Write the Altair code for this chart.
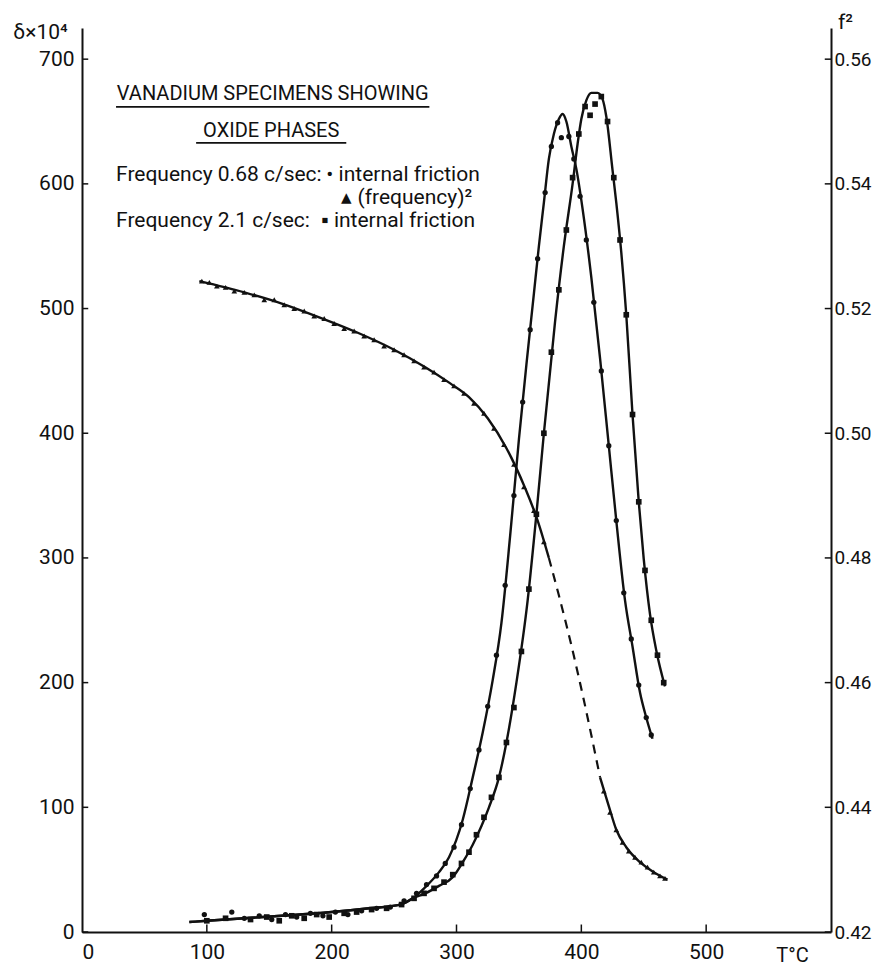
import altair as alt
import pandas as pd

# ---------------- data ----------------
# 0.68 c/sec internal friction (dots) - fitted curve
dots_T = [86, 100, 130, 160, 200, 230, 255, 265, 275, 286, 294, 305, 313, 321, 329, 336, 343, 350,
          356, 362, 366, 370, 374, 378, 382, 385, 388, 392, 396, 401, 408, 415, 422, 428, 435, 441,
          447, 452, 457]
dots_d = [8, 9, 11, 13, 16, 19, 22, 27, 36, 48, 60, 90, 124, 160, 202, 248, 318, 395,
          455, 512, 550, 585, 620, 640, 652, 656, 650, 630, 612, 580, 525, 460, 390, 330, 266, 229,
          192, 172, 155]
# dot markers
dotm_T = [98, 120, 130, 142, 152, 163, 172, 183, 193, 203, 213, 224, 236, 247, 258, 268, 276, 284,
          291, 298, 304, 311, 318, 325, 332, 339, 346, 353, 359, 365, 371, 376, 381, 384, 390, 394,
          399, 404, 410, 416, 422, 428, 434, 440, 446, 452, 456]
dotm_d = [14, 16, 11, 13, 10, 14, 12, 15, 13, 16, 14, 17, 19, 20, 25, 31, 38, 45,
          55, 68, 86, 115, 146, 181, 222, 278, 350, 425, 483, 540, 593, 630, 649, 637, 638, 620,
          590, 555, 505, 450, 390, 330, 272, 235, 198, 172, 158]

# 2.1 c/sec internal friction (squares) - fitted curve
sq_T = [86, 100, 130, 160, 200, 230, 255, 265, 275, 286, 297, 305, 313, 320, 326, 334, 340, 348,
        357, 364, 370, 379, 386, 393, 397, 400, 404, 408, 413, 417, 420, 425, 428, 432, 436, 441,
        446, 450, 455, 460, 467]
sq_d = [8, 9, 11, 13, 16, 19, 22, 27, 31, 37, 44, 56, 70, 85, 100, 124, 152, 200,
        266, 335, 400, 490, 550, 600, 632, 652, 667, 673, 673, 668, 654, 611, 585, 545, 495, 415,
        345, 299, 255, 226, 197]
# square markers
sqm_T = [100, 115, 135, 148, 158, 168, 178, 188, 198, 210, 220, 232, 244, 256, 266, 274, 282, 290,
         297, 304, 310, 316, 322, 328, 334, 340, 346, 352, 358, 364, 370, 376, 382, 388, 393, 398,
         403, 407, 411, 416, 421, 426, 431, 436, 441, 446, 451, 456, 461, 466]
sqm_d = [9, 11, 10, 12, 9, 13, 11, 14, 12, 15, 16, 18, 19, 22, 27, 31, 35, 40,
         46, 55, 64, 78, 92, 108, 124, 152, 180, 225, 275, 335, 400, 465, 515, 563, 605, 640,
         662, 655, 664, 670, 650, 605, 555, 495, 415, 345, 290, 250, 222, 200]

# 0.68 c/sec (frequency)^2 (triangles) - fitted curve, solid / dashed / solid
f2a_T = [94, 130, 160, 190, 220, 250, 275, 295, 310, 325, 340, 355, 365, 374]
f2a_v = [0.5244, 0.5226, 0.5208, 0.5186, 0.5162, 0.5134, 0.5106, 0.5080, 0.5058, 0.5024,
         0.4976, 0.4912, 0.4860, 0.4800]
f2b_T = [374, 382, 392, 402, 415]
f2b_v = [0.4800, 0.4740, 0.4660, 0.4572, 0.4448]
f2c_T = [415, 422, 428, 436, 447, 458, 469]
f2c_v = [0.4448, 0.4402, 0.4364, 0.4336, 0.4312, 0.4296, 0.4284]
# triangle markers
trm_T = [96, 102, 108, 115, 122, 130, 138, 146, 154, 162, 170, 178, 186, 194, 202, 210, 218, 226,
         234, 242, 250, 258, 266, 274, 282, 290, 298, 306, 314, 322, 330, 338, 346, 354, 362, 370,
         418, 423, 428, 433, 438, 443, 448, 453, 458, 463, 467]
trm_v = [0.5244, 0.5242, 0.5236, 0.5234, 0.5228, 0.5226, 0.5222, 0.5214, 0.5214, 0.5206, 0.5200,
         0.5196, 0.5188, 0.5184, 0.5176, 0.5168, 0.5164, 0.5156, 0.5150, 0.5140, 0.5134, 0.5126,
         0.5116, 0.5106, 0.5098, 0.5086, 0.5076, 0.5064, 0.5048, 0.5032, 0.5008, 0.4982, 0.4950,
         0.4914, 0.4876, 0.4826,
         0.4426, 0.4392, 0.4364, 0.4344, 0.4330, 0.4320, 0.4312, 0.4304, 0.4296, 0.4290, 0.4286]

x_ticks = [0, 100, 200, 300, 400, 500]
d_ticks = [0, 100, 200, 300, 400, 500, 600, 700]
f_ticks = [0.42, 0.44, 0.46, 0.48, 0.50, 0.52, 0.54, 0.56]

title_lines = ["VANADIUM SPECIMENS SHOWING", "OXIDE PHASES"]
legend_parts = ["Frequency 0.68 c/sec:", "\u2022 internal friction",
                "\u25b4 (frequency)\u00b2",
                "Frequency 2.1 c/sec:", "\u25aa internal friction"]

# ---------------- chart ----------------
FONT = "Roboto"
BLACK = "#111111"


def frame(T, v):
    return pd.DataFrame({"T": T, "v": v})


def px_T(px):  # page pixel x -> temperature (annotation placement)
    return (px - 83) / 1.247


def px_d(py):  # page pixel y -> delta units (annotation placement)
    return (932 - py) / 1.246


xs = alt.Scale(domain=[0, 600], nice=False, zero=False)
ys_d = alt.Scale(domain=[0, 725], nice=False, zero=False)
ys_f = alt.Scale(domain=[0.42, 0.565], nice=False, zero=False)

x_axis = alt.Axis(values=x_ticks, tickSize=0, labelPadding=9, domainWidth=2, domainColor=BLACK,
                  labelFont=FONT, labelFontSize=21, labelColor=BLACK, grid=False, format="d",
                  title="T\u00b0C", titleX=710, titleY=23, titleAngle=0, titleAlign="center",
                  titleBaseline="middle", titleFont=FONT, titleFontSize=20,
                  titleFontWeight="normal", titleColor=BLACK)
d_axis = alt.Axis(values=d_ticks, tickSize=0, labelPadding=8, domainWidth=2, domainColor=BLACK,
                  labelFont=FONT, labelFontSize=21, labelColor=BLACK, grid=False, format="d",
                  title="\u03b4\u00d710\u2074", titleAngle=0, titleX=-42, titleY=4,
                  titleAlign="center", titleBaseline="middle", titleFont=FONT, titleFontSize=21,
                  titleFontWeight="normal", titleColor=BLACK)
f_axis = alt.Axis(values=f_ticks, orient="right", tickSize=0, labelPadding=3, domainWidth=2,
                  domainColor=BLACK, labelFont=FONT, labelFontSize=19, labelColor=BLACK,
                  grid=False, format=".2f",
                  title="f\u00b2", titleAngle=0, titleX=14, titleY=-6, titleAlign="center",
                  titleBaseline="middle", titleFont=FONT, titleFontSize=21,
                  titleFontWeight="normal", titleColor=BLACK)

X = alt.X("T:Q", scale=xs, axis=x_axis)
YD = alt.Y("v:Q", scale=ys_d, axis=d_axis)
YF = alt.Y("v:Q", scale=ys_f, axis=f_axis)

line_kw = dict(color=BLACK, strokeWidth=2.4, interpolate="monotone")

l_dots = alt.Chart(frame(dots_T, dots_d)).mark_line(**line_kw).encode(x=X, y=YD)
l_sq = alt.Chart(frame(sq_T, sq_d)).mark_line(**line_kw).encode(x=X, y=YD)
p_dots = alt.Chart(frame(dotm_T, dotm_d)).mark_point(shape="circle", filled=True, size=28,
                                                     color=BLACK, opacity=1).encode(x=X, y=YD)
p_sq = alt.Chart(frame(sqm_T, sqm_d)).mark_point(shape="square", filled=True, size=32,
                                                 color=BLACK, opacity=1).encode(x=X, y=YD)

# inward ticks drawn from the tick values
xt = pd.DataFrame({"T": x_ticks[1:], "v": [0] * 5, "v2": [6] * 5})
tick_x = alt.Chart(xt).mark_rule(color=BLACK, strokeWidth=1.5).encode(
    x=X, y=YD, y2=alt.Y2("v2:Q"))
yt = pd.DataFrame({"T": [0] * len(d_ticks), "T2": [5] * len(d_ticks), "v": d_ticks})
tick_y = alt.Chart(yt).mark_rule(color=BLACK, strokeWidth=1.5).encode(
    x=X, x2=alt.X2("T2:Q"), y=YD)

# annotations
ann_c = pd.DataFrame({"T": [px_T(273.5), px_T(272)], "v": [px_d(95), px_d(132)],
                      "t": title_lines})
t_title = alt.Chart(ann_c).mark_text(font=FONT, fontSize=20, color=BLACK, align="center",
                                     baseline="middle").encode(x=X, y=YD, text="t:N")
part_px = [117, 327, 342, 117, 322]
part_py = [176, 176, 199, 222, 222]
ann_l = pd.DataFrame({"T": [px_T(p) for p in part_px], "v": [px_d(p) for p in part_py],
                      "t": legend_parts})
t_leg = alt.Chart(ann_l).mark_text(font=FONT, fontSize=21, color=BLACK, align="left",
                                   baseline="middle").encode(x=X, y=YD, text="t:N")
ul = pd.DataFrame({"T": [px_T(117), px_T(197)], "T2": [px_T(430), px_T(347)],
                   "v": [px_d(107.5), px_d(143.5)]})
t_ul = alt.Chart(ul).mark_rule(color=BLACK, strokeWidth=1.8).encode(
    x=X, x2=alt.X2("T2:Q"), y=YD)

group_d = alt.layer(tick_x, tick_y, l_dots, l_sq, p_dots, p_sq, t_title, t_leg, t_ul)

l_f2a = alt.Chart(frame(f2a_T, f2a_v)).mark_line(**line_kw).encode(x=X, y=YF)
l_f2b = alt.Chart(frame(f2b_T, f2b_v)).mark_line(color=BLACK, strokeWidth=2.2,
                                                 interpolate="monotone",
                                                 strokeDash=[9, 7]).encode(x=X, y=YF)
l_f2c = alt.Chart(frame(f2c_T, f2c_v)).mark_line(**line_kw).encode(x=X, y=YF)
p_tr = alt.Chart(frame(trm_T, trm_v)).mark_point(shape="triangle-up", filled=True, size=32,
                                                 color=BLACK, opacity=1).encode(x=X, y=YF)
ft = pd.DataFrame({"T": [595] * len(f_ticks), "T2": [600] * len(f_ticks), "v": f_ticks})
tick_f = alt.Chart(ft).mark_rule(color=BLACK, strokeWidth=1.5).encode(
    x=X, x2=alt.X2("T2:Q"), y=YF)

group_f = alt.layer(l_f2a, l_f2b, l_f2c, p_tr, tick_f)

chart = alt.layer(group_d, group_f).resolve_scale(y="independent").properties(
    width=749, height=904,
    autosize=alt.AutoSizeParams(type="none"),
    padding={"left": 74, "top": 20, "right": 43, "bottom": 36},
    background="white",
).configure_view(stroke=None)

chart.save("out.html", embed_options={"renderer": "svg", "actions": False})
